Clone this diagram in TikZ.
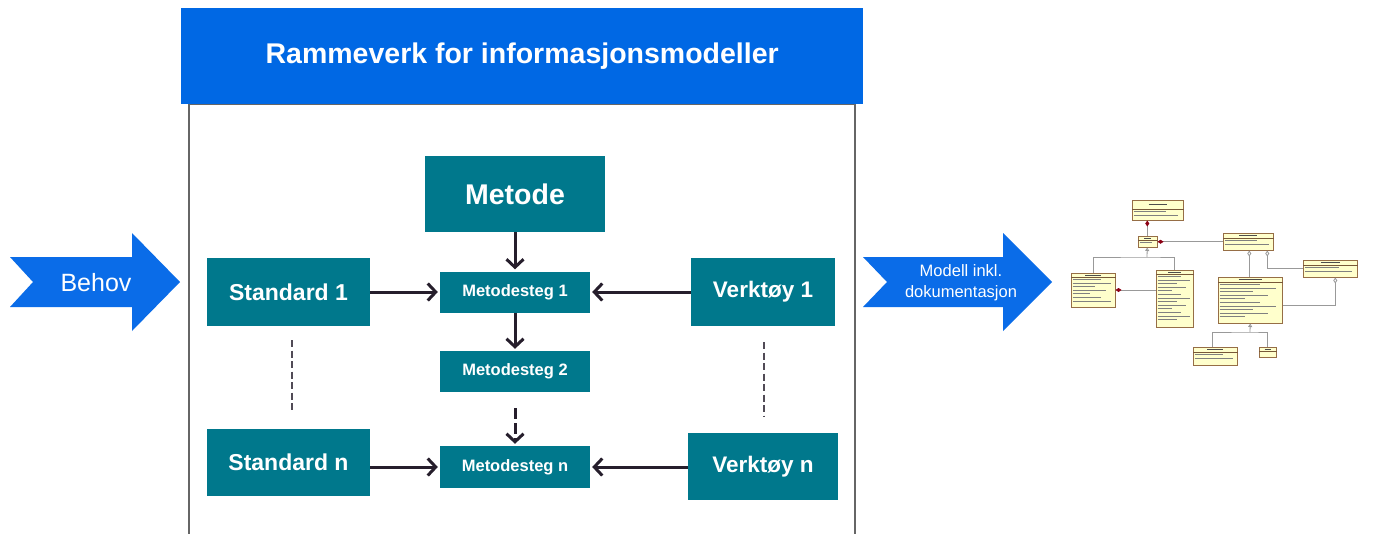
\documentclass[tikz,border=0pt]{standalone}
\usepackage{fontspec}
\setmainfont{Liberation Sans}
\usetikzlibrary{arrows.meta,calc}
\definecolor{titleblue}{RGB}{0,104,228}
\definecolor{arrowblue}{RGB}{10,108,232}
\definecolor{teal}{RGB}{0,120,140}
\definecolor{dark}{RGB}{38,30,44}
\definecolor{umlfill}{RGB}{255,255,204}
\definecolor{umlborder}{RGB}{150,110,70}
\definecolor{umlred}{RGB}{140,0,20}
\tikzset{
  tealbox/.style={fill=teal, text=white, font=\bfseries, inner sep=0pt},
  conn/.style={draw=dark, line width=3pt, -{Straight Barb[length=8pt,width=17pt]}, shorten >=2pt},
  dconn/.style={conn, dash pattern=on 11pt off 4pt},
  ellip/.style={draw=dark!80, line width=2pt, dash pattern=on 7pt off 3.5pt},
  umlbox/.style={draw=umlborder, fill=umlfill, line width=0.5pt, inner sep=0pt},
  umlsep/.style={draw=umlborder!80!black, line width=0.5pt},
  umltext/.style={draw=black!50, line width=0.8pt},
  umlline/.style={draw=black!40, line width=0.8pt},
  comp/.style={{Diamond[length=6pt,width=4pt,fill=umlred,color=umlred]}-},
  aggr/.style={{Diamond[length=6pt,width=4pt,open,fill=white]}-},
  gen/.style={{Triangle[length=3.5pt,width=4pt,open,fill=white]}-},
}
% name, x, y, w, h, header height, number of lines
\newcommand\umlcls[7]{%
  \node[umlbox, anchor=north west, minimum width=#4pt, minimum height=#5pt] (#1) at (#2,#3) {};
  \draw[umlsep] ([yshift=-#6pt]#1.north west) -- ([yshift=-#6pt]#1.north east);
  \draw[draw=black!70, line width=1pt] ([yshift=-#6pt*0.5]#1.north) ++(-#4*0.18,0) -- ++(#4*0.36,0);
  \ifnum#7>0
  \foreach \i in {1,...,#7}{
    \pgfmathsetmacro\len{#4*(0.40+0.12*mod(\i*7,5))}
    \draw[umltext] ([xshift=1.5pt, yshift=-#6pt-\i*3.6pt+1.2pt]#1.north west) -- ++(\len,0);
  }
  \fi
}
\begin{document}
\begin{tikzpicture}[x=1pt,y=-1pt]
\useasboundingbox (0,0) rectangle (1373,533);
\fill[white] (0,0) rectangle (1373,533);

% frame
\draw[draw=black!60, line width=1.3pt] (189,560) -- (189,104) -- (855,104) -- (855,560);
% title
\node[fill=titleblue, text=white, font=\bfseries\fontsize{28.5}{32}\selectfont,
      minimum width=682pt, minimum height=96pt, inner sep=0pt, anchor=north west]
      (title) at (181,8) {Rammeverk for informasjonsmodeller};

% teal boxes
\node[tealbox, font=\bfseries\fontsize{28.5}{32}\selectfont, minimum width=180pt, minimum height=76pt] (metode) at (515,194) {Metode};
\node[tealbox, font=\bfseries\fontsize{16.5}{18}\selectfont, minimum width=150pt, minimum height=41pt] (ms1) at (515,292) {Metodesteg 1};
\node[tealbox, font=\bfseries\fontsize{16.5}{18}\selectfont, minimum width=150pt, minimum height=41pt] (ms2) at (515,371.5) {Metodesteg 2};
\node[tealbox, font=\bfseries\fontsize{16.5}{18}\selectfont, minimum width=150pt, minimum height=42pt] (msn) at (515,467) {Metodesteg n};
\node[tealbox, font=\bfseries\fontsize{23}{26}\selectfont, minimum width=163pt, minimum height=68pt] (std1) at (288.5,292) {Standard 1};
\node[tealbox, font=\bfseries\fontsize{23}{26}\selectfont, minimum width=163pt, minimum height=67pt] (stdn) at (288.5,462.5) {Standard n};
\node[tealbox, font=\bfseries\fontsize{22.5}{26}\selectfont, minimum width=144pt, minimum height=68pt] (vt1) at (763,292) {Verktøy 1};
\node[tealbox, font=\bfseries\fontsize{22.5}{26}\selectfont, minimum width=150pt, minimum height=67pt] (vtn) at (763,466.5) {Verktøy n};

% connectors
\draw[conn] (metode.south) -- (ms1.north);
\draw[conn] (ms1.south) -- (ms2.north);
\draw[dconn, shorten <=16pt] (ms2.south) -- (msn.north);
\draw[conn] (std1.east |- ms1.west) -- (ms1.west);
\draw[conn] (vt1.west |- ms1.east) -- (ms1.east);
\draw[conn] (stdn.east |- msn.west) -- (msn.west);
\draw[conn] (vtn.west |- msn.east) -- (msn.east);
\draw[ellip, shorten <=14pt, shorten >=17pt] ([xshift=3.5pt]std1.south) -- ([xshift=3.5pt]stdn.north);
\draw[ellip, shorten <=16pt, shorten >=17pt] ([xshift=1pt]vt1.south) -- ([xshift=1pt]vtn.north);

% big blue arrows
\fill[arrowblue] (10,257) -- (132,257) -- (132,233) -- (180,282) -- (132,331) -- (132,307) -- (10,307) -- (33,282) -- cycle;
\node[text=white, font=\fontsize{25}{28}\selectfont] (behov) at (96,283) {Behov};
\fill[arrowblue] (863,257) -- (1003,257) -- (1003,233) -- (1052,282) -- (1003,331) -- (1003,307) -- (863,307) -- (887,282) -- cycle;
\node[text=white, font=\fontsize{16.5}{21}\selectfont, align=center] (modell) at (961,283) {Modell inkl.\\dokumentasjon};

% UML class diagram
\umlcls{ua}{1132}{200}{51}{20}{9}{2}
\umlcls{ub}{1138}{236}{19}{11}{4}{1}
\umlcls{uc}{1223}{233}{50}{17}{5}{2}
\umlcls{ud}{1071}{273}{44}{34}{4}{7}
\umlcls{ue}{1156}{270}{37}{57}{4}{13}
\umlcls{uf}{1218}{277}{64}{46}{5}{10}
\umlcls{ug}{1303}{260}{54}{17}{5}{2}
\umlcls{uh}{1193}{347}{44}{18}{5}{2}
\umlcls{ui}{1259}{347}{17}{10}{4}{0}

\draw[umlline, comp] ([xshift=-10.5pt]ua.south) -- ([xshift=-0.5pt]ub.north);
\draw[umlline, comp] (ub.east) -- (uc.west |- ub.east);
\draw[umlline, comp] (ud.east |- 0,290) -- (ue.west |- 0,290);
\coordinate (g1) at (1147,257);
\draw[umlline, gen] ([xshift=-0.5pt]ub.south) -- (g1);
\draw[umlline] (ud.north) |- (g1) -| (ue.north);
\draw[umlline, aggr] ([xshift=1pt]uc.south) -- ([xshift=1pt]uc.south |- uf.north);
\draw[umlline, aggr] ([xshift=19pt]uc.south) |- (ug.west |- 0,268);
\draw[umlline, aggr] ([xshift=5pt]ug.south) |- (uf.east |- 0,305);
\coordinate (g2) at (1250,332);
\draw[umlline, gen] (uf.south) -- (g2);
\draw[umlline] ([xshift=-3pt]uh.north) |- (g2) -| (ui.north);
\end{tikzpicture}
\end{document}
